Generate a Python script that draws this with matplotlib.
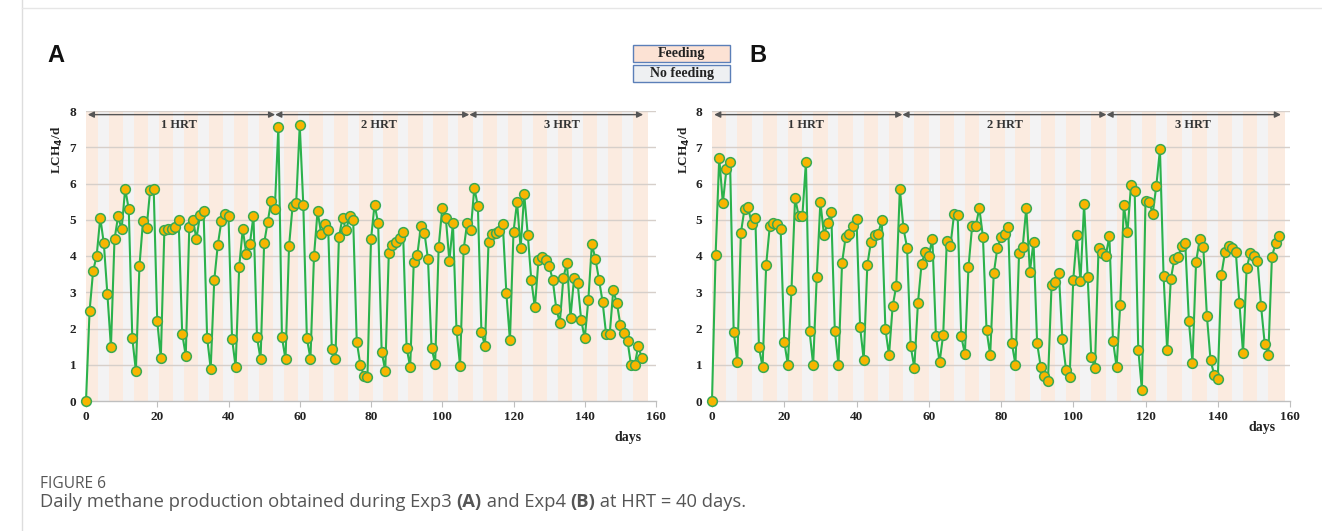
import matplotlib
matplotlib.use('Agg')
import matplotlib.pyplot as plt
from matplotlib.patches import Rectangle

# ---------------- data ----------------
days_a = list(range(157))
lch4_a = [0.00, 2.48, 3.59, 4.01, 5.06, 4.35, 2.95, 1.49, 4.46, 5.09,
          4.74, 5.86, 5.29, 1.73, 0.83, 3.72, 4.96, 4.76, 5.81, 5.85,
          2.20, 1.19, 4.71, 4.74, 4.74, 4.80, 5.00, 1.86, 1.25, 4.80,
          5.00, 4.47, 5.13, 5.23, 1.75, 0.89, 3.33, 4.31, 4.96, 5.15,
          5.09, 1.72, 0.94, 3.70, 4.74, 4.05, 4.33, 5.11, 1.76, 1.15,
          4.35, 4.94, 5.53, 5.29, 7.57, 1.76, 1.15, 4.28, 5.39, 5.47,
          7.61, 5.40, 1.73, 1.17, 4.00, 5.24, 4.62, 4.87, 4.72, 1.44,
          1.15, 4.52, 5.05, 4.71, 5.09, 4.99, 1.64, 1.00, 0.70, 0.66,
          4.46, 5.42, 4.91, 1.35, 0.84, 4.08, 4.29, 4.39, 4.50, 4.65,
          1.47, 0.93, 3.83, 4.03, 4.82, 4.64, 3.91, 1.46, 1.03, 4.26,
          5.33, 5.05, 3.86, 4.91, 1.97, 0.97, 4.18, 4.92, 4.71, 5.88,
          5.38, 1.90, 1.52, 4.40, 4.60, 4.64, 4.70, 4.87, 2.97, 1.67,
          4.67, 5.49, 4.21, 5.71, 4.59, 3.33, 2.58, 3.88, 3.98, 3.90,
          3.73, 3.35, 2.55, 2.16, 3.40, 3.82, 2.30, 3.39, 3.26, 2.23,
          1.73, 2.78, 4.32, 3.92, 3.35, 2.74, 1.84, 1.84, 3.05, 2.71,
          2.10, 1.88, 1.66, 0.98, 0.98, 1.51, 1.20]

days_b = list(range(158))
lch4_b = [0.00, 4.04, 6.71, 5.46, 6.40, 6.59, 1.91, 1.08, 4.64, 5.30,
          5.34, 4.88, 5.05, 1.48, 0.94, 3.76, 4.83, 4.90, 4.88, 4.75,
          1.63, 1.00, 3.06, 5.60, 5.11, 5.09, 6.59, 1.93, 1.00, 3.43,
          5.49, 4.58, 4.91, 5.22, 1.94, 1.00, 3.81, 4.53, 4.62, 4.82,
          5.01, 2.04, 1.13, 3.75, 4.40, 4.58, 4.61, 4.99, 1.99, 1.26,
          2.61, 3.17, 5.86, 4.76, 4.23, 1.51, 0.92, 2.69, 3.77, 4.12,
          4.01, 4.47, 1.78, 1.07, 1.83, 4.41, 4.28, 5.15, 5.13, 1.78,
          1.30, 3.69, 4.82, 4.82, 5.32, 4.53, 1.96, 1.26, 3.52, 4.23,
          4.52, 4.62, 4.81, 1.60, 1.00, 4.08, 4.25, 5.33, 3.56, 4.40,
          1.59, 0.94, 0.70, 0.55, 3.21, 3.29, 3.54, 1.71, 0.86, 0.66,
          3.34, 4.57, 3.30, 5.43, 3.41, 1.21, 0.91, 4.22, 4.08, 4.01,
          4.55, 1.66, 0.94, 2.65, 5.41, 4.65, 5.97, 5.79, 1.42, 0.31,
          5.53, 5.49, 5.17, 5.94, 6.94, 3.46, 1.40, 3.36, 3.92, 3.96,
          4.28, 4.36, 2.22, 1.06, 3.84, 4.46, 4.25, 2.34, 1.13, 0.73,
          0.60, 3.48, 4.10, 4.27, 4.23, 4.12, 2.69, 1.32, 3.66, 4.08,
          4.00, 3.87, 2.61, 1.58, 1.28, 3.98, 4.35, 4.55]

# no-feeding periods (start day of each gray band), feeding span end
nofeed_a = [3.5, 10.5, 17.5, 24.5, 31.5, 38.5, 45.5, 52.5, 59.5, 66.5, 73.5,
            80.5, 87.5, 94.5, 101.5, 108.5, 115.5, 122.5, 129.5, 136.5, 143.5, 150.5]
nofeed_b = [4, 11, 18, 25, 32, 39, 46, 53, 60, 67, 74,
            81, 88, 95, 102, 109, 116, 123, 130, 137, 144, 151]
nofeed_len = 3.0
feed_end_a = 157.8
feed_end_b = 158.5

hrt_labels = ['1 HRT', '2 HRT', '3 HRT']
hrt_bounds_a = [0.5, 53.1, 107.6, 156.4]
hrt_bounds_b = [0.6, 52.7, 109.2, 157.5]
hrt_text_a = [26.1, 82.2, 133.6]
hrt_text_b = [26.0, 81.2, 133.0]

xticks = [0, 20, 40, 60, 80, 100, 120, 140, 160]
yticks = [0, 1, 2, 3, 4, 5, 6, 7, 8]

# ---------------- style ----------------
PEACH = '#fbebe0'
GRAY = '#f3f3f4'
LINE = '#2bb24c'
FACE = '#f7b500'
EDGE = '#3aaa50'
GRID = '#d6cfca'
SERIF = ['Liberation Serif', 'DejaVu Serif']
SANS = ['Liberation Sans', 'DejaVu Sans']

fig = plt.figure(figsize=(13.22, 5.31), dpi=100)
W, H = 1322, 531


def px_axes(x0, x1, y0, y1):
    return fig.add_axes([x0 / W, 1 - y1 / H, (x1 - x0) / W, (y1 - y0) / H])


def draw_panel(ax, days, vals, nofeed, feed_end, bounds, textx):
    ax.set_xlim(0, 160)
    ax.set_ylim(0, 8)
    ax.add_patch(Rectangle((0, 0), feed_end, 8, facecolor=PEACH, edgecolor='none', zorder=0))
    for s in nofeed:
        ax.add_patch(Rectangle((s, 0), nofeed_len, 8, facecolor=GRAY, edgecolor='none', zorder=0.5))
    for y in yticks[1:]:
        ax.axhline(y, color=GRID, lw=1.0, zorder=1)
    ax.plot(days, vals, color=LINE, lw=1.5, zorder=3, clip_on=False,
            marker='o', markersize=7.0, markerfacecolor=FACE,
            markeredgecolor=EDGE, markeredgewidth=1.1)
    for sp in ['left', 'right', 'top']:
        ax.spines[sp].set_visible(False)
    ax.spines['bottom'].set_color('#bfbfbf')
    ax.spines['bottom'].set_linewidth(1.0)
    ax.set_xticks(xticks)
    ax.set_yticks(yticks)
    ax.tick_params(axis='x', length=4, color='#bfbfbf', pad=3)
    ax.tick_params(axis='y', length=0, pad=7)
    for lab in ax.get_xticklabels() + ax.get_yticklabels():
        lab.set_fontfamily(SERIF)
        lab.set_fontweight('bold')
        lab.set_fontsize(9.5)
        lab.set_color('#222222')
    # HRT arrows
    yarr = 7.9
    for i in range(3):
        ax.annotate('', xy=(bounds[i + 1], yarr), xytext=(bounds[i], yarr),
                    arrowprops=dict(arrowstyle='<|-|>', color='#555555', lw=1.0,
                                    mutation_scale=9, shrinkA=0, shrinkB=0),
                    zorder=4, annotation_clip=False)
        ax.text(textx[i], 7.6, hrt_labels[i], ha='center', va='center',
                fontfamily=SERIF, fontweight='bold', fontsize=9, color='#333333', zorder=5)


axA = px_axes(86, 656, 111, 401)
draw_panel(axA, days_a, lch4_a, nofeed_a, feed_end_a, hrt_bounds_a, hrt_text_a)
axB = px_axes(712, 1290, 111, 401)
draw_panel(axB, days_b, lch4_b, nofeed_b, feed_end_b, hrt_bounds_b, hrt_text_b)

# y labels
for xp in (57, 684):
    fig.text(xp / W, 1 - 150 / H, 'LCH$_\\mathbf{4}$/d', rotation=90, ha='center', va='center',
             fontfamily=SERIF, fontweight='bold', fontsize=9.5, color='#222222')
# x labels
fig.text(628 / W, 1 - 438 / H, 'days', ha='center', va='center',
         fontfamily=SERIF, fontweight='bold', fontsize=10, color='#222222')
fig.text(1262 / W, 1 - 428 / H, 'days', ha='center', va='center',
         fontfamily=SERIF, fontweight='bold', fontsize=10, color='#222222')

# panel letters
fig.text(47 / W, 1 - 55 / H, 'A', ha='left', va='center', fontfamily=SANS,
         fontweight='bold', fontsize=17, color='#111111')
fig.text(749 / W, 1 - 55 / H, 'B', ha='left', va='center', fontfamily=SANS,
         fontweight='bold', fontsize=17, color='#111111')

# legend boxes
legend_labels = ['Feeding', 'No feeding']
legend_colors = ['#fce2d4', '#eef0f2']
for k, (lab, col) in enumerate(zip(legend_labels, legend_colors)):
    y0 = 45 + k * 20
    fig.patches.append(Rectangle((633 / W, 1 - (y0 + 17) / H), 97 / W, 17 / H,
                                 transform=fig.transFigure, facecolor=col,
                                 edgecolor='#5b7fb8', lw=1.0))
    fig.text(681.5 / W, 1 - (y0 + 8.5) / H, lab, ha='center', va='center',
             fontfamily=SERIF, fontweight='bold', fontsize=10, color='#222222')

# page border lines
fig.add_artist(plt.Line2D([22 / W, 22 / W], [0, 1], transform=fig.transFigure,
                          color='#dddddd', lw=1))
fig.add_artist(plt.Line2D([22 / W, 1], [1 - 8 / H, 1 - 8 / H], transform=fig.transFigure,
                          color='#e6e6e6', lw=1))

# caption
CAP = ['Open Sans', 'DejaVu Sans']
fig.text(40 / W, 1 - 484 / H, 'FIGURE 6', ha='left', va='center', fontfamily=CAP,
         fontsize=11.2, color='#555555')
parts = [('Daily methane production obtained during Exp3 ', 'normal'), ('(A)', 'bold'),
         (' and Exp4 ', 'normal'), ('(B)', 'bold'), (' at HRT = 40 days.', 'normal')]
fig.canvas.draw()
renderer = fig.canvas.get_renderer()
xpos = 40
for txt, wt in parts:
    t = fig.text(xpos / W, 1 - 502 / H, txt, ha='left', va='center', fontfamily=CAP,
                 fontsize=13.2, fontweight=wt, color='#555555')
    bb = t.get_window_extent(renderer=renderer)
    xpos += bb.width

fig.savefig('out.png', dpi=100)
